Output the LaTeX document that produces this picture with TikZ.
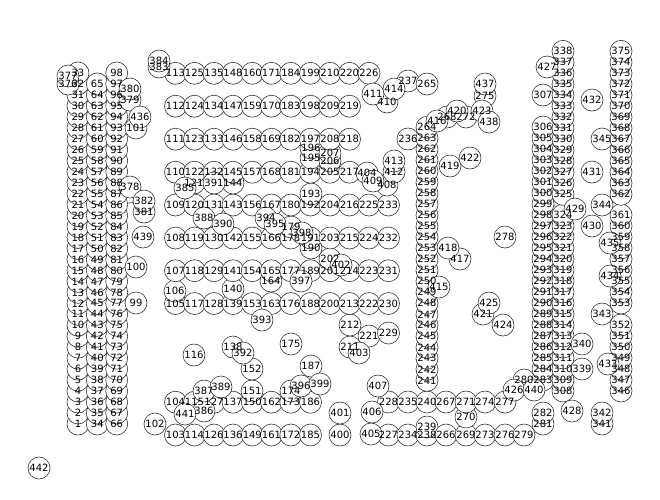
\documentclass[tikz,border=0pt]{standalone}
\usepackage{fontspec}
\setmainfont{DejaVu Sans}
\pgfdeclarelayer{bg}
\pgfsetlayers{bg,main}
\newcommand\vv[3]{\node[vtx] (v#1) at (#2,#3) {};}
\begin{document}
\begin{tikzpicture}[x=1pt,y=-1pt,
  vtx/.style={circle,draw=black!80,fill=white,line width=0.6pt,minimum size=22pt,inner sep=0pt},
  lbl/.style={font=\fontsize{10}{12}\selectfont,inner sep=0pt,text=black},
  edge/.style={draw=black!80,line width=0.6pt}]
\useasboundingbox (0,0) rectangle (660,499);
\def\ca{175.5}\def\cb{194.5}\def\cc{214}\def\cd{233}\def\ce{252.3}\def\cf{271.5}
\def\cg{290.8}\def\ch{310.5}\def\ci{330}\def\cj{349.5}\def\ck{369}\def\cl{388.5}
\def\ra{73.3}\def\rb{106.2}\def\rc{139.2}\def\rd{172.2}\def\re{205}\def\rf{238}
\def\rg{270.7}\def\rh{303.5}\def\ri{402.2}\def\rj{435}
\foreach \i in {1,...,33} {\node[vtx] (v\i) at (78,{424-(\i-1)*10.97}) {};}
\foreach \i in {34,...,65} {\node[vtx] (v\i) at (97.3,{424-(\i-34)*10.97}) {};}
\foreach \i in {66,...,98} {\node[vtx] (v\i) at (116.7,{424-(\i-66)*10.97}) {};}
\vv{99}{136}{303}\vv{100}{136}{267}\vv{101}{136}{128}\vv{102}{155}{424}
\vv{103}{\ca}{\rj}\vv{104}{\ca}{\ri}\vv{105}{\ca}{\rh}\vv{106}{175}{291}
\vv{107}{\ca}{\rg}\vv{108}{\ca}{\rf}\vv{109}{\ca}{\re}\vv{110}{\ca}{\rd}
\vv{111}{\ca}{\rc}\vv{112}{\ca}{\rb}\vv{113}{\ca}{\ra}
\vv{114}{\cb}{\rj}\vv{115}{\cb}{\ri}\vv{116}{194}{355}\vv{117}{\cb}{\rh}
\vv{118}{\cb}{\rg}\vv{119}{\cb}{\rf}\vv{120}{\cb}{\re}\vv{121}{194}{183}
\vv{122}{\cb}{\rd}\vv{123}{\cb}{\rc}\vv{124}{\cb}{\rb}\vv{125}{\cb}{\ra}
\vv{126}{\cc}{\rj}\vv{127}{\cc}{\ri}\vv{128}{\cc}{\rh}\vv{129}{\cc}{\rg}
\vv{130}{\cc}{\rf}\vv{131}{\cc}{\re}\vv{132}{\cc}{\rd}\vv{133}{\cc}{\rc}
\vv{134}{\cc}{\rb}\vv{135}{\cc}{\ra}
\vv{136}{\cd}{\rj}\vv{137}{\cd}{\ri}\vv{138}{233}{347}\vv{139}{\cd}{\rh}
\vv{140}{233}{289}\vv{141}{\cd}{\rg}\vv{142}{\cd}{\rf}\vv{143}{\cd}{\re}
\vv{144}{233}{183}\vv{145}{\cd}{\rd}\vv{146}{\cd}{\rc}\vv{147}{\cd}{\rb}
\vv{148}{\cd}{\ra}
\vv{149}{\ce}{\rj}\vv{150}{\ce}{\ri}\vv{151}{252}{391}\vv{152}{252}{369}
\vv{153}{\ce}{\rh}\vv{154}{\ce}{\rg}\vv{155}{\ce}{\rf}\vv{156}{\ce}{\re}
\vv{157}{\ce}{\rd}\vv{158}{\ce}{\rc}\vv{159}{\ce}{\rb}\vv{160}{\ce}{\ra}
\vv{161}{\cf}{\rj}\vv{162}{\cf}{\ri}\vv{163}{\cf}{\rh}\vv{164}{271}{281}
\vv{165}{\cf}{\rg}\vv{166}{\cf}{\rf}\vv{167}{\cf}{\re}\vv{168}{\cf}{\rd}
\vv{169}{\cf}{\rc}\vv{170}{\cf}{\rb}\vv{171}{\cf}{\ra}
\vv{172}{\cg}{\rj}\vv{173}{\cg}{\ri}\vv{174}{291}{391}\vv{175}{291}{344}
\vv{176}{\cg}{\rh}\vv{177}{\cg}{\rg}\vv{178}{\cg}{\rf}\vv{179}{291}{227}
\vv{180}{\cg}{\re}\vv{181}{\cg}{\rd}\vv{182}{\cg}{\rc}\vv{183}{\cg}{\rb}
\vv{184}{\cg}{\ra}
\vv{185}{\ch}{\rj}\vv{186}{\ch}{\ri}\vv{187}{311}{366}\vv{188}{\ch}{\rh}
\vv{189}{\ch}{\rg}\vv{190}{311}{248}\vv{191}{\ch}{\rf}\vv{192}{\ch}{\re}
\vv{193}{311}{194}\vv{194}{\ch}{\rd}\vv{195}{311}{158}\vv{196}{311}{148}
\vv{197}{\ch}{\rc}\vv{198}{\ch}{\rb}\vv{199}{\ch}{\ra}
\vv{200}{\ci}{\rh}\vv{201}{\ci}{\rg}\vv{202}{330}{259}\vv{203}{\ci}{\rf}
\vv{204}{\ci}{\re}\vv{205}{\ci}{\rd}\vv{206}{330}{161}\vv{207}{330}{153}
\vv{208}{\ci}{\rc}\vv{209}{\ci}{\rb}\vv{210}{\ci}{\ra}
\vv{211}{350}{347}\vv{212}{350}{325}\vv{213}{\cj}{\rh}\vv{214}{\cj}{\rg}
\vv{215}{\cj}{\rf}\vv{216}{\cj}{\re}\vv{217}{\cj}{\rd}\vv{218}{\cj}{\rc}
\vv{219}{\cj}{\rb}\vv{220}{\cj}{\ra}
\vv{221}{369}{336}\vv{222}{\ck}{\rh}\vv{223}{\ck}{\rg}\vv{224}{\ck}{\rf}
\vv{225}{\ck}{\re}\vv{226}{\ck}{\ra}
\vv{227}{388.5}{435}\vv{228}{388.5}{402}\vv{229}{388.5}{333}\vv{230}{\cl}{\rh}
\vv{231}{\cl}{\rg}\vv{232}{\cl}{\rf}\vv{233}{\cl}{\re}
\vv{234}{408}{435}\vv{235}{408}{402}\vv{236}{408}{139}\vv{237}{408}{81}
\vv{238}{427}{435}\vv{239}{427}{427}\vv{240}{427}{402}
\foreach \i in {241,...,264} {\node[vtx] (v\i) at (427,{380.3-(\i-241)*11}) {};}
\vv{265}{427}{84}\vv{266}{446}{435}\vv{267}{446}{402}\vv{268}{447}{117}
\vv{269}{466}{435}\vv{270}{466}{417}\vv{271}{466}{402}\vv{272}{466}{117}
\vv{273}{485}{435}\vv{274}{485}{402}\vv{275}{485}{96}\vv{276}{505}{435}
\vv{277}{505}{402}\vv{278}{505}{237}\vv{279}{524}{435}\vv{280}{524}{380}
\vv{281}{543}{424}\vv{282}{543}{413}
\foreach \i in {283,...,306} {\node[vtx] (v\i) at (543,{380-(\i-283)*11}) {};}
\vv{307}{543}{95}
\foreach \i in {308,...,324} {\node[vtx] (v\i) at (563,{391-(\i-308)*11}) {};}
\foreach \i in {325,...,338} {\node[vtx] (v\i) at (563,{194.3-(\i-325)*11}) {};}
\vv{339}{582}{369}\vv{340}{582}{344}\vv{341}{602}{424}\vv{342}{602}{413}
\vv{343}{602}{314}\vv{344}{602}{205}\vv{345}{602}{139}
\foreach \i in {346,...,352} {\node[vtx] (v\i) at (621,{391-(\i-346)*11}) {};}
\foreach \i in {353,...,361} {\node[vtx] (v\i) at (621,{303-(\i-353)*11}) {};}
\foreach \i in {362,...,375} {\node[vtx] (v\i) at (621,{194.3-(\i-362)*11}) {};}
\vv{376}{68}{84}\vv{377}{68}{76}\vv{378}{130}{187}\vv{379}{130}{100}
\vv{380}{130}{89}\vv{381}{144}{212}\vv{382}{144}{201}\vv{383}{159}{67}
\vv{384}{159}{61}\vv{385}{185}{188}\vv{386}{204}{411}\vv{387}{204}{391}
\vv{388}{204}{218}\vv{389}{221}{387}\vv{390}{223}{224}\vv{391}{214}{183}
\vv{392}{243}{353}\vv{393}{262}{320}\vv{394}{266}{218}\vv{395}{275}{224}
\vv{396}{301}{386}\vv{397}{301}{281}\vv{398}{302}{233}\vv{399}{320}{384}
\vv{400}{340}{435}\vv{401}{340}{413}\vv{402}{341}{265}\vv{403}{359}{353}
\vv{404}{367}{173}\vv{405}{371}{434}\vv{406}{372}{412}\vv{407}{378}{386}
\vv{408}{387}{185}\vv{409}{373}{181}\vv{410}{387}{102}\vv{411}{373}{94}
\vv{412}{394}{172}\vv{413}{394}{161}\vv{414}{394}{89}\vv{415}{439}{287}
\vv{416}{437}{121}\vv{417}{460}{259}\vv{418}{448}{248}\vv{419}{450}{166}
\vv{420}{457}{111}\vv{421}{483}{314}\vv{422}{470}{158}\vv{423}{482}{111}
\vv{424}{503}{325}\vv{425}{489}{303}\vv{426}{514}{390}\vv{427}{547}{67}
\vv{428}{572}{411}\vv{429}{575}{209}\vv{430}{592}{226}\vv{431}{592}{172}
\vv{432}{592}{100}\vv{433}{608}{364}\vv{434}{610}{276}\vv{435}{610}{243}
\vv{436}{140}{117}\vv{437}{485}{84}\vv{438}{489}{122}\vv{439}{143}{237}
\vv{440}{534}{390}\vv{441}{185}{414}\vv{442}{39}{468}
\begin{pgfonlayer}{bg}
\draw[edge] (v86) -- (v382);
\draw[edge] (v299) -- (v429);
\end{pgfonlayer}
\foreach \i in {1,...,442} {\node[lbl] at (v\i) {\i};}
\end{tikzpicture}
\end{document}
